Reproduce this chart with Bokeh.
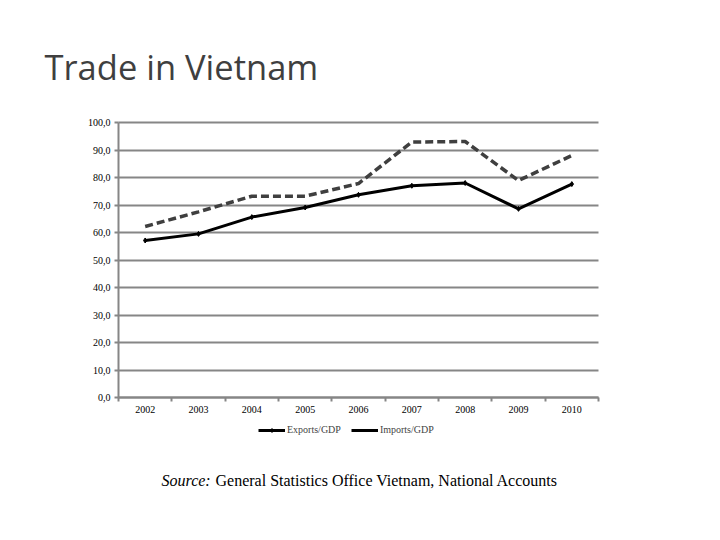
from bokeh.plotting import figure
from bokeh.models import Range1d, FixedTicker, Label, Legend, LegendItem, ColumnDataSource
from bokeh.embed import file_html
from bokeh.resources import INLINE

years = ["2002", "2003", "2004", "2005", "2006", "2007", "2008", "2009", "2010"]
exports_gdp = [57.1, 59.5, 65.6, 69.1, 73.7, 77.0, 78.0, 68.6, 77.6]
imports_gdp = [62.2, 67.5, 73.2, 73.2, 77.8, 92.9, 93.1, 78.9, 88.0]
y_ticks = [0, 10, 20, 30, 40, 50, 60, 70, 80, 90, 100]
y_labels = ["0,0", "10,0", "20,0", "30,0", "40,0", "50,0", "60,0", "70,0", "80,0", "90,0", "100,0"]

title_text = "Trade in Vietnam"
source_lead = "Source:"
source_text = "General Statistics Office Vietnam, National Accounts"

n = len(years)
xpos = [i + 0.5 for i in range(n)]
src = ColumnDataSource(dict(x=xpos, exp=exports_gdp, imp=imports_gdp))

GRID = "#868686"
SERIF = "Liberation Serif"

# ---- layout (pixels on the canvas)
FRAME_L, FRAME_T, FRAME_W, FRAME_H = 40, 0, 664, 500   # drawing frame
PLOT_L, PLOT_R, PLOT_T, PLOT_B = 118, 598, 122, 397     # chart area inside it
ymax = y_ticks[-1]
kx = (PLOT_R - PLOT_L) / n
ky = (PLOT_B - PLOT_T) / ymax


def dx(px):
    return (px - PLOT_L) / kx


def dy(py):
    return (PLOT_B - py) / ky


p = figure(frame_width=FRAME_W, frame_height=FRAME_H, output_backend="svg", toolbar_location=None,
           x_range=Range1d(dx(FRAME_L), dx(FRAME_L + FRAME_W)),
           y_range=Range1d(dy(FRAME_T + FRAME_H), dy(FRAME_T)),
           min_border_left=FRAME_L, min_border_right=0, min_border_top=FRAME_T, min_border_bottom=24)
p.outline_line_color = None
p.background_fill_color = "white"
p.border_fill_color = "white"

p.xaxis.fixed_location = 0
p.xaxis.bounds = (0, n)
p.xaxis.ticker = FixedTicker(ticks=xpos, minor_ticks=list(range(n + 1)))
p.xaxis.major_label_overrides = {x: y for x, y in zip(xpos, years)}
p.xaxis.major_tick_line_color = None
p.xaxis.major_tick_out = 4
p.xaxis.major_tick_in = 0
p.xaxis.minor_tick_line_color = GRID
p.xaxis.minor_tick_line_width = 2
p.xaxis.minor_tick_out = 4
p.xaxis.minor_tick_in = 0
p.xaxis.axis_line_color = GRID
p.xaxis.axis_line_width = 2
p.xaxis.major_label_text_font = SERIF
p.xaxis.major_label_text_font_size = "10px"
p.xaxis.major_label_standoff = 4
p.xaxis.major_label_text_color = "black"

p.yaxis.fixed_location = 0
p.yaxis.bounds = (0, ymax)
p.yaxis.ticker = FixedTicker(ticks=y_ticks, minor_ticks=[])
p.yaxis.major_label_overrides = {t: l for t, l in zip(y_ticks, y_labels)}
p.yaxis.major_tick_line_color = GRID
p.yaxis.major_tick_line_width = 2
p.yaxis.major_tick_out = 4
p.yaxis.major_tick_in = 0
p.yaxis.axis_line_color = GRID
p.yaxis.axis_line_width = 2
p.yaxis.major_label_text_font = SERIF
p.yaxis.major_label_text_font_size = "10px"
p.yaxis.major_label_standoff = 4
p.yaxis.major_label_text_color = "black"

p.xgrid.grid_line_color = None
p.ygrid.grid_line_color = GRID
p.ygrid.grid_line_width = 2
p.ygrid.bounds = (0, ymax)
p.ygrid.cross_bounds = (0, n)

r_imp = p.line("x", "imp", source=src, line_color="#3f3f3f", line_width=3.5, line_dash="8 4")
r_exp = p.line("x", "exp", source=src, line_color="black", line_width=3)
r_exp_m = p.scatter("x", "exp", source=src, marker="diamond", size=5, color="black")

legend = Legend(items=[LegendItem(label="Exports/GDP", renderers=[r_exp, r_exp_m]),
                       LegendItem(label="Imports/GDP", renderers=[r_exp])],
                orientation="horizontal", location=(258 - FRAME_L, FRAME_T + FRAME_H - 435),
                label_text_font=SERIF, label_text_font_size="10px",
                glyph_width=27, glyph_height=10, label_standoff=2, spacing=10,
                padding=2, margin=0, border_line_color=None, background_fill_alpha=0)
p.add_layout(legend, "center")

p.add_layout(Label(x=dx(44), y=dy(66), text=title_text, text_font="Open Sans",
                   text_font_size="34.5px", text_color="#3f3f3f", text_baseline="alphabetic"))
p.add_layout(Label(x=dx(161), y=dy(480), text=source_lead, text_font=SERIF, text_font_style="italic",
                   text_font_size="16px", text_color="black", text_baseline="alphabetic"))
p.add_layout(Label(x=dx(215), y=dy(480), text=source_text, text_font=SERIF,
                   text_font_size="16px", text_color="black", text_baseline="alphabetic"))

open("out.html", "w").write(file_html(p, INLINE))
